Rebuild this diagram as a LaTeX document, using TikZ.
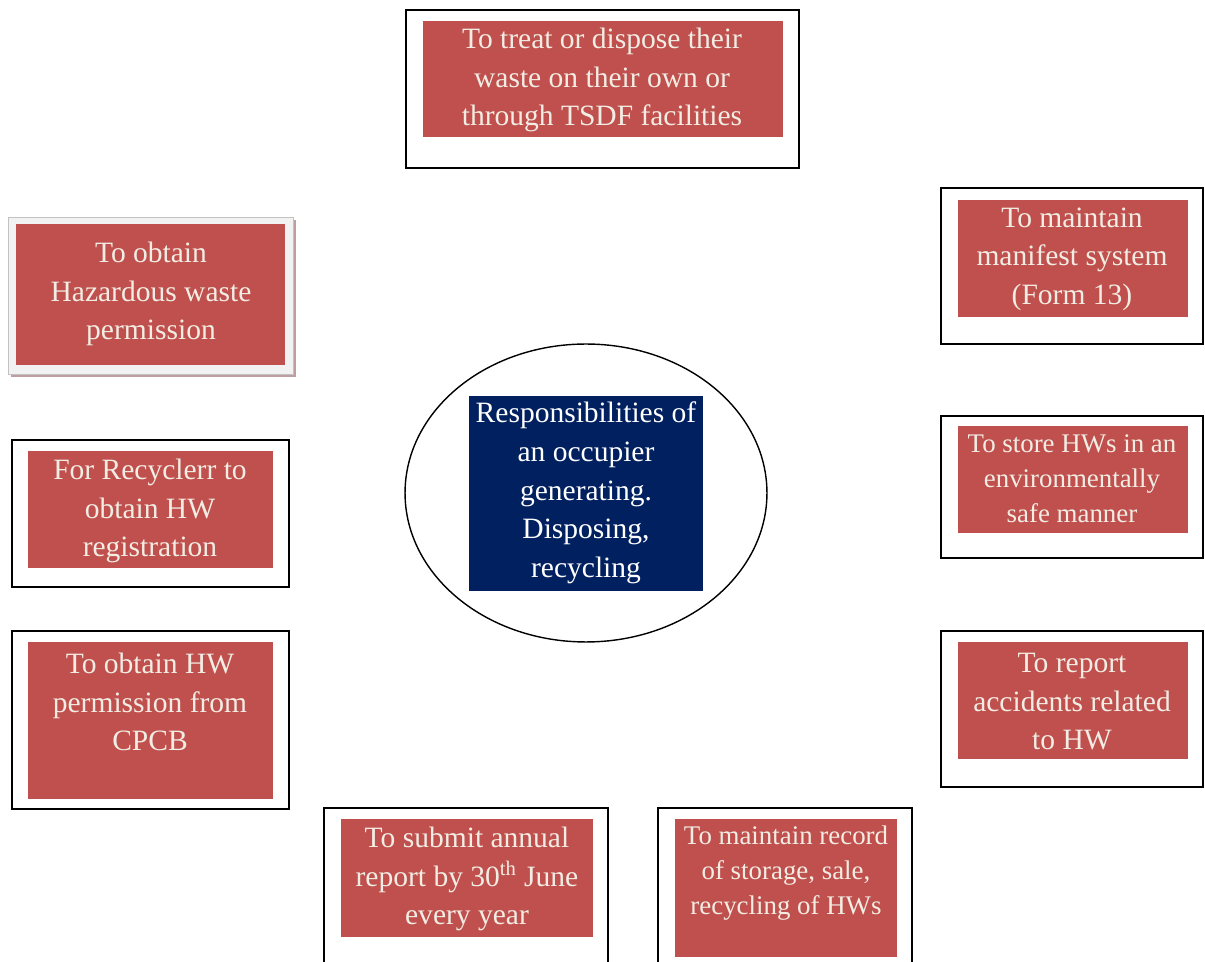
\documentclass[tikz,border=0pt]{standalone}
\usepackage{fontspec}
\setmainfont{Liberation Serif}
\usetikzlibrary{fit,shapes.geometric}
\definecolor{hwred}{RGB}{192,80,77}
\definecolor{hwtext}{RGB}{242,237,228}
\definecolor{hwnavy}{RGB}{0,32,96}
\definecolor{hwgrey}{RGB}{242,242,242}
\definecolor{hwshadow}{RGB}{190,158,158}
\begin{document}
\begin{tikzpicture}[x=0.02cm, y=-0.02cm, line join=miter,
    frame/.style={draw=black, line width=1.1pt, fill=white, inner sep=0pt},
    patch/.style={fill=hwred, inner sep=0pt},
    duty/.style={text=hwtext, align=center, inner sep=0pt,
      font=\fontsize{16.8}{21.9}\selectfont},
    smallduty/.style={duty, font=\fontsize{15.3}{20}\selectfont}]
  \clip (0,0) rectangle (1205,962);
  \fill[white] (0,0) rectangle (1205,962);
  % centre
  \node[draw, ellipse, line width=0.8pt, minimum width=7.24cm,
    minimum height=5.96cm] (hub) at (586,493) {};
  \node[fill=hwnavy, inner sep=0pt, fit={(469,396) (703,591)}] (hubbox) {};
  \node[text=white, align=center, inner sep=0pt,
    font=\fontsize{16.8}{22}\selectfont] (hubtxt) at (586,493)
    {Responsibilities of\\an occupier\\generating.\\Disposing,\\recycling};
  % top
  \node[frame, fit={(406,10) (799,168)}] (topfr) {};
  \node[patch, fit={(423,21) (783,137)}] (toppt) {};
  \node[duty] (toptx) at (602,80)
    {To treat or dispose their\\waste on their own or\\through TSDF facilities};
  % left column
  \fill[hwshadow] (11,220) rectangle (296,377);
  \node[draw=hwgrey!80!black, line width=0.3pt, fill=hwgrey, inner sep=0pt,
    fit={(8,217) (293,374)}] (permfr) {};
  \node[patch, fit={(16,224) (285,365)}] (permpt) {};
  \node[duty] (permtx) at (151,294)
    {To obtain\\Hazardous waste\\permission};
  \node[frame, fit={(12,440) (289,587)}] (regfr) {};
  \node[patch, fit={(28,451) (273,568)}] (regpt) {};
  \node[duty] (regtx) at (150,511)
    {For Recyclerr to\\obtain HW\\registration};
  \node[frame, fit={(12,631) (289,809)}] (cpcbfr) {};
  \node[patch, fit={(28,642) (273,799)}] (cpcbpt) {};
  \node[duty] (cpcbtx) at (150,702)
    {To obtain HW\\permission from\\CPCB};
  % bottom row
  \node[frame, fit={(324,808) (608,990)}] (annfr) {};
  \node[patch, fit={(341,819) (593,937)}] (annpt) {};
  \node[duty] (anntx) at (467,879)
    {To submit annual\\report by 30\textsuperscript{th} June\\every year};
  \node[frame, fit={(658,808) (912,990)}] (recfr) {};
  \node[patch, fit={(675,819) (897,957)}] (recpt) {};
  \node[smallduty] (rectx) at (786,873)
    {To maintain record\\of storage, sale,\\recycling of HWs};
  % right column
  \node[frame, fit={(941,188) (1203,344)}] (manfr) {};
  \node[patch, fit={(958,200) (1188,317)}] (manpt) {};
  \node[duty] (mantx) at (1072,259)
    {To maintain\\manifest system\\(Form 13)};
  \node[frame, fit={(941,416) (1203,558)}] (storfr) {};
  \node[patch, fit={(958,426) (1188,533)}] (storpt) {};
  \node[smallduty] (stortx) at (1072,479)
    {To store HWs in an\\environmentally\\safe manner};
  \node[frame, fit={(941,631) (1203,787)}] (accfr) {};
  \node[patch, fit={(958,642) (1188,759)}] (accpt) {};
  \node[duty] (acctx) at (1072,702)
    {To report\\accidents related\\to HW};
\end{tikzpicture}
\end{document}
